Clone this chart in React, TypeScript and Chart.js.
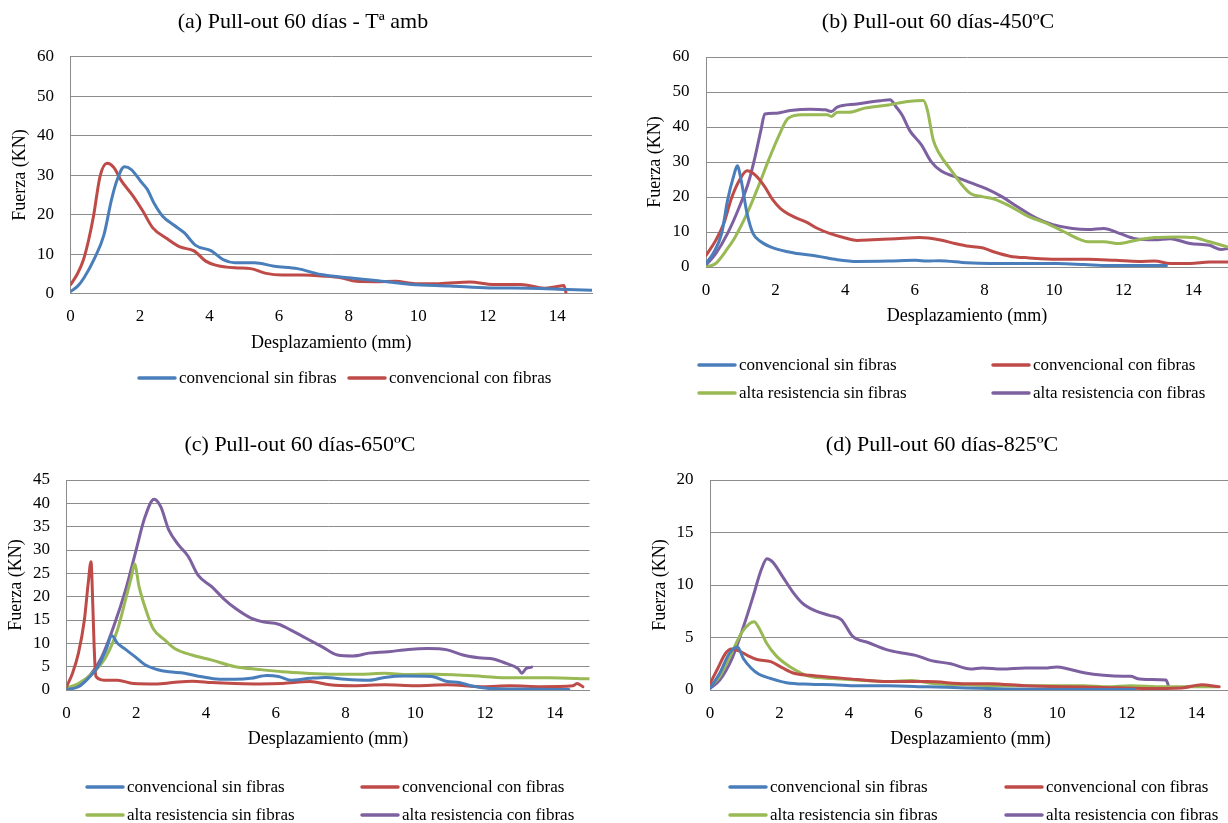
import React, { useEffect, useRef } from "react";
import { Chart, registerables } from "chart.js";

Chart.register(...registerables);

const FONT = "'Liberation Serif', 'Times New Roman', Times, serif";

const SERIES_LABELS = [
  "convencional sin fibras",
  "convencional con fibras",
  "alta resistencia sin fibras",
  "alta resistencia con fibras",
];
const SERIES_COLORS = ["#4A7EBB", "#BE4B48", "#98B954", "#7D60A0"];
const X_AXIS_TITLE = "Desplazamiento (mm)";
const Y_AXIS_TITLE = "Fuerza (KN)";
const X_MIN = 0;
const X_MAX = 15;
const X_STEP = 2;

// (a) Tª amb
const A_SIN_X = [0, 0.2, 0.39, 0.68, 0.96, 1.18, 1.35, 1.55, 1.75, 2.03, 2.2, 2.42, 2.65, 2.98, 3.27, 3.6, 4.05, 4.39, 4.73, 5.29, 5.86, 6.53, 7.2, 8.0, 8.78, 9.8, 10.92, 12.05, 13.2, 14.3, 15.0];
const A_SIN_Y = [0.5, 1.8, 4, 8.7, 14.8, 23.8, 29, 32.1, 31.4, 28.3, 26.5, 22.6, 19.6, 17.3, 15.4, 12.2, 10.8, 8.6, 7.8, 7.8, 6.9, 6.3, 4.8, 4.0, 3.3, 2.3, 1.9, 1.4, 1.35, 1.0, 0.8];
const A_CON_X = [0, 0.2, 0.37, 0.52, 0.66, 0.85, 1.05, 1.24, 1.46, 1.8, 2.08, 2.36, 2.76, 3.15, 3.55, 3.89, 4.17, 4.73, 5.18, 5.63, 6.08, 6.64, 7.32, 7.77, 8.22, 8.78, 9.35, 9.91, 10.58, 11.49, 12.16, 12.95, 13.63, 13.96, 14.19, 14.25];
const A_CON_Y = [2.2, 5, 8.5, 13.5, 19.5, 29.7, 33, 32, 28.6, 24.7, 20.9, 16.7, 14, 11.8, 10.8, 8.2, 7.2, 6.5, 6.3, 5.1, 4.7, 4.7, 4.4, 4.0, 3.1, 3.0, 3.1, 2.5, 2.5, 2.9, 2.3, 2.3, 1.35, 1.7, 2.0, 0.3];

// (b) 450ºC
const B_CSIN_X = [0, 0.23, 0.45, 0.62, 0.79, 0.9, 1.01, 1.18, 1.35, 1.58, 1.97, 2.53, 3.21, 3.77, 4.34, 5.24, 6.02, 6.36, 6.7, 7.49, 8.16, 9.18, 10.08, 10.87, 11.54, 12.33, 13.23];
const B_CSIN_Y = [1, 4.3, 9.6, 19.1, 25.8, 28.9, 24.8, 15.3, 9.6, 7.2, 5.3, 4.0, 3.1, 2.1, 1.6, 1.7, 1.9, 1.7, 1.8, 1.2, 1.0, 1.0, 1.0, 0.7, 0.4, 0.4, 0.4];
const B_CCON_X = [0, 0.28, 0.51, 0.73, 0.96, 1.18, 1.41, 1.69, 1.91, 2.14, 2.53, 2.87, 3.21, 3.55, 4.0, 4.34, 4.79, 5.46, 6.14, 6.7, 7.15, 7.49, 7.94, 8.28, 8.73, 9.29, 10.08, 10.98, 11.77, 12.44, 12.89, 13.34, 13.91, 14.47, 15.0];
const B_CCON_Y = [3.3, 7.6, 12.4, 19.6, 24.8, 27.5, 26.3, 22.9, 19.3, 16.7, 14.3, 12.9, 11.0, 9.6, 8.3, 7.6, 7.8, 8.1, 8.4, 7.8, 6.7, 6.0, 5.5, 4.3, 3.1, 2.6, 2.2, 2.2, 1.9, 1.6, 1.7, 1.0, 1.0, 1.4, 1.4];
const B_ASIN_X = [0, 0.28, 0.62, 0.84, 1.18, 1.52, 1.8, 2.08, 2.36, 2.76, 3.21, 3.49, 3.6, 3.77, 4.11, 4.56, 5.24, 5.8, 6.25, 6.36, 6.53, 6.7, 7.04, 7.32, 7.6, 7.94, 8.28, 8.73, 9.29, 9.74, 10.3, 10.76, 10.98, 11.43, 11.88, 12.33, 12.89, 13.57, 14.02, 14.47, 15.0];
const B_ASIN_Y = [0, 1, 5.3, 8.6, 15.3, 23.4, 30.6, 37.2, 42.5, 43.5, 43.5, 43.5, 43, 44.2, 44.2, 45.4, 46.3, 47.3, 47.6, 44.9, 36.3, 32.5, 27.7, 23.9, 21.0, 20.1, 19.4, 17.4, 14.3, 12.7, 10.0, 7.8, 7.2, 7.2, 6.7, 7.6, 8.4, 8.6, 8.4, 7.2, 5.7];
const B_ACON_X = [0, 0.28, 0.62, 0.96, 1.24, 1.41, 1.58, 1.69, 1.97, 2.42, 2.98, 3.43, 3.6, 3.77, 4.34, 5.01, 5.29, 5.46, 5.63, 5.86, 6.19, 6.47, 6.76, 7.15, 7.6, 8.05, 8.5, 8.95, 9.52, 9.97, 10.53, 10.98, 11.43, 11.88, 12.33, 12.89, 13.34, 13.91, 14.47, 14.8, 15.0];
const B_ACON_Y = [0.5, 3.8, 9.6, 17.2, 24.8, 31.5, 39.2, 43.7, 43.9, 44.7, 45.1, 44.9, 44.4, 45.7, 46.6, 47.5, 47.8, 45.8, 43.5, 38.9, 34.9, 30.1, 27.4, 25.8, 24.1, 22.4, 20.1, 17.2, 13.8, 12.1, 11.0, 10.7, 11.0, 9.6, 8.1, 7.8, 8.1, 6.7, 6.2, 5.0, 5.3];

// (c) 650ºC
const C_CSIN_X = [0, 0.34, 0.62, 0.9, 1.13, 1.3, 1.46, 1.69, 1.97, 2.25, 2.59, 2.93, 3.38, 3.83, 4.39, 4.84, 5.29, 5.74, 6.08, 6.42, 6.98, 7.43, 7.99, 8.67, 9.12, 9.68, 10.47, 10.92, 11.26, 11.6, 12.05, 13.06, 14.41];
const C_CSIN_Y = [0.1, 0.7, 2.5, 5, 8.6, 11.6, 10, 8.7, 7.1, 5.4, 4.4, 3.9, 3.6, 2.9, 2.3, 2.3, 2.5, 3.1, 2.9, 2.1, 2.5, 2.7, 2.3, 2.1, 2.7, 3.0, 2.9, 1.8, 1.6, 0.9, 0.4, 0.2, 0.1];
const C_CCON_X = [0, 0.17, 0.34, 0.51, 0.62, 0.7, 0.75, 0.79, 0.84, 1.07, 1.46, 1.91, 2.59, 3.04, 3.6, 4.17, 4.84, 5.52, 6.19, 6.98, 7.55, 8.22, 9.12, 10.02, 10.92, 11.94, 12.73, 13.63, 14.53, 14.64, 14.81];
const C_CCON_Y = [0.7, 3.6, 7.9, 15, 22.9, 27.5, 18.6, 9.3, 2.9, 2.1, 2.1, 1.4, 1.3, 1.6, 1.9, 1.6, 1.4, 1.3, 1.4, 1.8, 1.1, 0.9, 1.1, 0.9, 1.1, 0.7, 0.9, 0.7, 0.9, 1.4, 0.7];
const C_ASIN_X = [0, 0.34, 0.79, 1.13, 1.46, 1.69, 1.86, 1.95, 2.08, 2.31, 2.48, 2.82, 3.1, 3.6, 4.17, 4.84, 5.52, 6.19, 6.87, 7.66, 8.45, 9.12, 9.8, 10.59, 11.26, 11.94, 12.73, 13.85, 15.0];
const C_ASIN_Y = [0.4, 1.4, 3.9, 7.1, 12.9, 19.3, 24.3, 27, 22.1, 16.4, 13.2, 10.7, 8.9, 7.5, 6.4, 5, 4.4, 3.9, 3.6, 3.4, 3.4, 3.6, 3.3, 3.4, 3.2, 2.9, 2.6, 2.6, 2.4];
const C_ACON_X = [0, 0.34, 0.68, 1.01, 1.35, 1.69, 1.97, 2.25, 2.51, 2.7, 2.93, 3.21, 3.49, 3.77, 4.17, 4.5, 4.84, 5.29, 5.63, 6.08, 6.42, 6.87, 7.32, 7.77, 8.22, 8.67, 9.23, 9.8, 10.36, 10.92, 11.37, 11.82, 12.27, 12.61, 12.95, 13.06, 13.18, 13.34];
const C_ACON_Y = [0.3, 1.1, 3.2, 7.1, 13.6, 21.4, 29.3, 37.1, 40.9, 39.3, 34.3, 31.1, 28.6, 24.6, 22.1, 19.6, 17.5, 15.4, 14.6, 14.1, 12.9, 11.1, 9.3, 7.5, 7.3, 7.9, 8.2, 8.7, 8.9, 8.6, 7.5, 6.9, 6.6, 5.7, 4.6, 3.6, 4.6, 4.9];

// (d) 825ºC
const D_CSIN_X = [0, 0.28, 0.56, 0.79, 0.96, 1.18, 1.41, 1.75, 2.2, 2.87, 3.55, 4.23, 5.13, 6.26, 7.38, 8.51, 10.2, 12.23];
const D_CSIN_Y = [0.15, 1.6, 3.5, 4.1, 3.0, 2.1, 1.5, 1.1, 0.7, 0.55, 0.5, 0.4, 0.4, 0.3, 0.2, 0.1, 0.05, 0.05];
const D_CCON_X = [0, 0.23, 0.45, 0.62, 0.85, 1.13, 1.35, 1.75, 2.09, 2.42, 2.87, 3.55, 4.23, 5.13, 6.26, 7.38, 8.06, 9.08, 10.2, 11.33, 12.46, 13.59, 14.15, 14.66];
const D_CCON_Y = [0.6, 2.1, 3.5, 3.9, 3.7, 3.2, 2.9, 2.7, 2.1, 1.6, 1.4, 1.2, 1.0, 0.8, 0.8, 0.6, 0.6, 0.4, 0.3, 0.25, 0.15, 0.2, 0.5, 0.3];
const D_ASIN_X = [0, 0.28, 0.62, 0.9, 1.13, 1.27, 1.41, 1.64, 1.92, 2.31, 2.87, 3.55, 4.23, 5.13, 5.8, 6.48, 7.38, 8.51, 9.64, 10.77, 11.44, 12.12, 13.02, 14.15, 14.6];
const D_ASIN_Y = [0.3, 1.3, 3.5, 5.4, 6.3, 6.5, 5.9, 4.4, 3.2, 2.2, 1.3, 1.1, 0.95, 0.8, 0.9, 0.6, 0.5, 0.4, 0.4, 0.4, 0.3, 0.4, 0.3, 0.3, 0.3];
const D_ACON_X = [0, 0.28, 0.62, 0.96, 1.24, 1.47, 1.64, 1.8, 2.09, 2.37, 2.65, 2.99, 3.44, 3.78, 4.11, 4.57, 5.13, 5.58, 5.92, 6.37, 6.93, 7.5, 7.84, 8.4, 9.08, 9.64, 9.98, 10.32, 10.77, 11.33, 11.89, 12.12, 12.29, 12.68, 13.13, 13.19];
const D_ACON_Y = [0.15, 0.95, 2.9, 6.0, 8.9, 11.4, 12.5, 12.2, 10.8, 9.4, 8.3, 7.6, 7.1, 6.7, 5.1, 4.5, 3.8, 3.5, 3.3, 2.8, 2.5, 2.0, 2.1, 2.0, 2.1, 2.1, 2.2, 2.0, 1.65, 1.4, 1.3, 1.3, 1.1, 1.0, 0.95, 0.5];

const TITLES = [
  "(a) Pull-out 60 días - Tª amb",
  "(b) Pull-out 60 días-450ºC",
  "(c) Pull-out 60 días-650ºC",
  "(d) Pull-out 60 días-825ºC",
];
const Y_MAXES = [60, 60, 45, 20];
const Y_STEPS = [10, 10, 5, 5];

type Series = { xs: number[]; ys: number[] };
type Panel = {
  title: string;
  yMax: number;
  yStep: number;
  series: Series[];
  box: { left: number; top: number; width: number; height: number };
  padL: number;
  padR: number;
  padB: number;
  titlePadTop: number;
  titlePadBottom: number;
  yW: number;
  yTitlePad: number;
  xH: number;
  legendRows: number[];
  legendCols: number[];
};

const PANELS: Panel[] = [
  {
    title: TITLES[0], yMax: Y_MAXES[0], yStep: Y_STEPS[0],
    series: [{ xs: A_SIN_X, ys: A_SIN_Y }, { xs: A_CON_X, ys: A_CON_Y }],
    box: { left: 0, top: 0, width: 614, height: 410 },
    padL: 14, padR: 22, padB: 56.2, titlePadTop: 8.8, titlePadBottom: 21.5,
    yW: 56.5, yTitlePad: -4.8, xH: 60.3,
    legendRows: [378], legendCols: [137, 347],
  },
  {
    title: TITLES[1], yMax: Y_MAXES[1], yStep: Y_STEPS[1],
    series: [
      { xs: B_CSIN_X, ys: B_CSIN_Y }, { xs: B_CCON_X, ys: B_CCON_Y },
      { xs: B_ASIN_X, ys: B_ASIN_Y }, { xs: B_ACON_X, ys: B_ACON_Y },
    ],
    box: { left: 614, top: 0, width: 614, height: 410 },
    padL: 34, padR: 0, padB: 83.2, titlePadTop: 8.8, titlePadBottom: 21.8,
    yW: 58, yTitlePad: -3.8, xH: 59.8,
    legendRows: [365, 393], legendCols: [83, 377],
  },
  {
    title: TITLES[2], yMax: Y_MAXES[2], yStep: Y_STEPS[2],
    series: [
      { xs: C_CSIN_X, ys: C_CSIN_Y }, { xs: C_CCON_X, ys: C_CCON_Y },
      { xs: C_ASIN_X, ys: C_ASIN_Y }, { xs: C_ACON_X, ys: C_ACON_Y },
    ],
    box: { left: 0, top: 420, width: 614, height: 403 },
    padL: 10.5, padR: 24.5, padB: 73.2, titlePadTop: 11.8, titlePadBottom: 21.8,
    yW: 56.1, yTitlePad: -4.8, xH: 59.8,
    legendRows: [367, 395], legendCols: [85, 360],
  },
  {
    title: TITLES[3], yMax: Y_MAXES[3], yStep: Y_STEPS[3],
    series: [
      { xs: D_CSIN_X, ys: D_CSIN_Y }, { xs: D_CCON_X, ys: D_CCON_Y },
      { xs: D_ASIN_X, ys: D_ASIN_Y }, { xs: D_ACON_X, ys: D_ACON_Y },
    ],
    box: { left: 614, top: 420, width: 620, height: 403 },
    padL: 39, padR: 3, padB: 73.2, titlePadTop: 11.8, titlePadBottom: 21.8,
    yW: 57, yTitlePad: -3.8, xH: 59.8,
    legendRows: [367, 395], legendCols: [114, 390],
  },
];

const GRID_COLOR = "#8C8C8C";
const LEGEND_LINE = 40;
const LEGEND_GAP = 2;

const gridLegend = {
  id: "gridLegend",
  afterDraw(chart: any, _args: any, opts: any) {
    const items = opts && opts.items;
    if (!items) return;
    const ctx = chart.ctx;
    ctx.save();
    ctx.font = `${opts.fontSize}px ${FONT}`;
    ctx.textBaseline = "middle";
    ctx.textAlign = "left";
    for (let i = 0; i < items.length; i++) {
      const it = items[i];
      ctx.strokeStyle = it.color;
      ctx.lineWidth = 3.5;
      ctx.lineCap = "round";
      ctx.beginPath();
      ctx.moveTo(it.x + 2, it.y);
      ctx.lineTo(it.x + LEGEND_LINE - 2, it.y);
      ctx.stroke();
      ctx.fillStyle = "#000";
      ctx.fillText(it.text, it.x + LEGEND_LINE + LEGEND_GAP, it.y + 1);
    }
    ctx.restore();
  },
};

function buildConfig(p: Panel): any {
  const datasets = p.series.map((s, i) => ({
    label: SERIES_LABELS[i],
    data: s.xs.map((x, j) => ({ x, y: s.ys[j] })),
    borderColor: SERIES_COLORS[i],
    backgroundColor: SERIES_COLORS[i],
    borderWidth: 3,
    pointRadius: 0,
    pointHoverRadius: 0,
    fill: false,
    cubicInterpolationMode: "monotone",
    borderJoinStyle: "round",
    borderCapStyle: "round",
  }));
  const items = p.series.map((_s, i) => ({
    text: SERIES_LABELS[i],
    color: SERIES_COLORS[i],
    x: p.legendCols[i % 2],
    y: p.legendRows[Math.floor(i / 2)],
  }));
  return {
    type: "line",
    data: { datasets },
    plugins: [gridLegend],
    options: {
      responsive: false,
      animation: false,
      events: [],
      layout: { padding: { left: p.padL, right: p.padR, top: 0, bottom: p.padB } },
      plugins: {
        legend: { display: false },
        tooltip: { enabled: false },
        title: {
          display: true,
          text: p.title,
          color: "#000",
          font: { family: FONT, size: 22, weight: "normal", lineHeight: 1.2 },
          padding: { top: p.titlePadTop, bottom: p.titlePadBottom },
        },
        gridLegend: { items, fontSize: 17 },
      },
      scales: {
        x: {
          type: "linear",
          min: X_MIN,
          max: X_MAX,
          afterFit: (s: any) => { s.height = p.xH; },
          ticks: {
            stepSize: X_STEP,
            includeBounds: false,
            maxRotation: 0,
            autoSkip: false,
            padding: 13,
            color: "#000",
            font: { family: FONT, size: 17 },
          },
          grid: { display: false, drawTicks: false },
          border: { display: true, color: GRID_COLOR, width: 1 },
          title: {
            display: true,
            text: X_AXIS_TITLE,
            color: "#000",
            font: { family: FONT, size: 18, lineHeight: 1.2 },
            padding: 0,
          },
        },
        y: {
          type: "linear",
          min: 0,
          max: p.yMax,
          afterFit: (s: any) => { s.width = p.yW; },
          ticks: {
            stepSize: p.yStep,
            autoSkip: false,
            maxTicksLimit: 50,
            padding: 16.5,
            color: "#000",
            font: { family: FONT, size: 17, lineHeight: 0.8 },
          },
          grid: { display: true, color: GRID_COLOR, lineWidth: 1, drawTicks: false },
          border: { display: true, color: GRID_COLOR, width: 1 },
          title: {
            display: true,
            text: Y_AXIS_TITLE,
            color: "#000",
            font: { family: FONT, size: 18, lineHeight: 1.2 },
            padding: { top: p.yTitlePad, bottom: 0 },
          },
        },
      },
    },
  };
}

function PanelChart({ panel }: { panel: Panel }) {
  const ref = useRef<HTMLCanvasElement | null>(null);
  useEffect(() => {
    if (!ref.current) return;
    const chart = new Chart(ref.current, buildConfig(panel));
    return () => chart.destroy();
  }, [panel]);
  const b = panel.box;
  return (
    <div style={{ position: "absolute", left: b.left, top: b.top, width: b.width, height: b.height }}>
      <canvas ref={ref} width={b.width} height={b.height} style={{ width: b.width, height: b.height, display: "block" }} />
    </div>
  );
}

export default function App() {
  return (
    <div
      style={{
        position: "fixed",
        left: 0,
        top: 0,
        width: 1228,
        height: 823,
        overflow: "hidden",
        background: "#ffffff",
      }}
    >
      {PANELS.map((p, i) => (
        <PanelChart key={i} panel={p} />
      ))}
    </div>
  );
}
